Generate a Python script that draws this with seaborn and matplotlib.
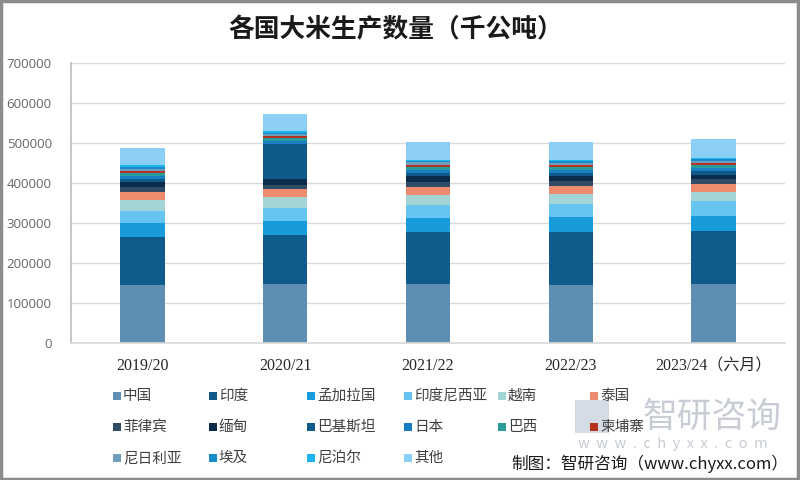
import numpy as np
import pandas as pd
import matplotlib
matplotlib.use("Agg")
import matplotlib.pyplot as plt
import seaborn as sns
from matplotlib.patches import Rectangle

# ---------------- data (thousand tonnes) ----------------
years = ["2019/20", "2020/21", "2021/22", "2022/23", "2023/24（六月）"]
countries = ["中国", "印度", "孟加拉国", "印度尼西亚", "越南", "泰国",
             "菲律宾", "缅甸", "巴基斯坦", "日本", "巴西", "柬埔寨",
             "尼日利亚", "埃及", "尼泊尔", "其他"]
china       = [146000, 148000, 147000, 145500, 147500]
india       = [118000, 121500, 130000, 133000, 132500]
bangladesh  = [36000, 36000, 36000, 37500, 37000]
indonesia   = [31000, 31000, 31500, 31500, 37500]
vietnam     = [27000, 27500, 25000, 24000, 23500]
thailand    = [20000, 20000, 21800, 21500, 19000]
philippines = [12000, 12000, 11000, 12000, 12000]
myanmar     = [12500, 15000, 14000, 12000, 12000]
pakistan    = [8000, 86000, 9000, 8500, 9500]
japan       = [7600, 7500, 7600, 7300, 7200]
brazil      = [7100, 7500, 7300, 6800, 7000]
cambodia    = [5700, 5800, 5800, 5900, 6000]
nigeria     = [5000, 5200, 5300, 5200, 5300]
egypt       = [4300, 3000, 2900, 3600, 3700]
nepal       = [3700, 3600, 3400, 3600, 3700]
others      = [44500, 43000, 44000, 45000, 46500]
yticks = [0, 100000, 200000, 300000, 400000, 500000, 600000, 700000]

colors = ["#5E8FB3", "#0F5C8C", "#179BDA", "#66C5F0", "#A3D5D6", "#EE8A6E",
          "#2F4B66", "#0C2C4C", "#0E5A88", "#1A7EC2", "#279C9A", "#B4321F",
          "#6F9DBD", "#168CCB", "#1DB4EE", "#8CCFF4"]

series = [china, india, bangladesh, indonesia, vietnam, thailand, philippines,
          myanmar, pakistan, japan, brazil, cambodia, nigeria, egypt, nepal, others]
df = pd.DataFrame(np.array(series).T, columns=countries)
df["year"] = years
cum = df[countries].cumsum(axis=1)

# ---------------- style ----------------
sns.set_theme(style="white")
plt.rcParams["font.family"] = ["Noto Sans CJK SC", "DejaVu Sans"]

fig = plt.figure(figsize=(8, 4.8), dpi=100)
ax = fig.add_axes([0.089, 0.285, 0.892, 0.584])

for name, col in reversed(list(zip(countries, colors))):
    sns.barplot(x=df["year"], y=cum[name], color=col, saturation=1,
                width=0.31, errorbar=None, linewidth=0, ax=ax)

ax.set_ylim(0, 700000)
ax.set_yticks(yticks)
ax.set_yticklabels([str(v) for v in yticks], fontfamily="Open Sans",
                   fontsize=9.5, color="#666666")
ax.set_xticks(range(len(years)))
ax.set_xticklabels(years, fontfamily=["Liberation Serif", "Noto Sans CJK SC"],
                   fontsize=11.5, color="#262626")
ax.tick_params(axis="both", length=0)
ax.tick_params(axis="y", pad=14)
ax.tick_params(axis="x", pad=11)
ax.set_xlabel("")
ax.set_ylabel("")
ax.yaxis.grid(True, color="#d9d9d9", linewidth=1)
ax.set_axisbelow(True)
for s in ["top", "right"]:
    ax.spines[s].set_visible(False)
ax.spines["left"].set_color("#bfbfbf")
ax.spines["bottom"].set_color("#d9d9d9")

# title
fig.text(0.495, 0.938, "各国大米生产数量（千公吨）", ha="center", va="center",
         fontsize=18.5, fontweight="bold", color="#1a1a1a")

# watermark
fig.patches.append(Rectangle((575 / 800, 1 - 433 / 480), 34 / 800, 33 / 480,
                             transform=fig.transFigure, facecolor="#d6dce6",
                             edgecolor="none", zorder=0))
fig.text(643 / 800, 1 - 417 / 480, "智研咨询", ha="left", va="center", fontsize=25,
         color="#c8ccd4", zorder=0)
fig.text(578 / 800, 1 - 444 / 480, "w  w  w  .  c  h  y  x  x  .  c  o  m", ha="left",
         va="center", fontsize=10.5, color="#c8ccd4", zorder=0)

# legend (manual grid)
col_x = [117, 213, 311, 408, 502, 594]
row_y = [396, 427, 458]
for i, (name, col) in enumerate(zip(countries, colors)):
    r, c = divmod(i, 6)
    x = col_x[c] / 800
    y = 1 - row_y[r] / 480
    fig.patches.append(Rectangle((x - 4 / 800, y - 4 / 480), 8 / 800, 8 / 480,
                                 transform=fig.transFigure, facecolor=col,
                                 edgecolor="none", zorder=3))
    fig.text(x + 6 / 800, y, name, ha="left", va="center", fontsize=10.5,
             color="#404040", zorder=3)

# source
fig.text(0.985, 0.033, "制图：智研咨询（www.chyxx.com）", ha="right", va="center",
         fontsize=12, color="#1a1a1a")

# outer frame
fig.patches.append(Rectangle((0.001, 0.002), 0.997, 0.996, transform=fig.transFigure,
                             fill=False, edgecolor="#8c8c8c", linewidth=2.5, zorder=5))

fig.savefig("out.png", dpi=100)
